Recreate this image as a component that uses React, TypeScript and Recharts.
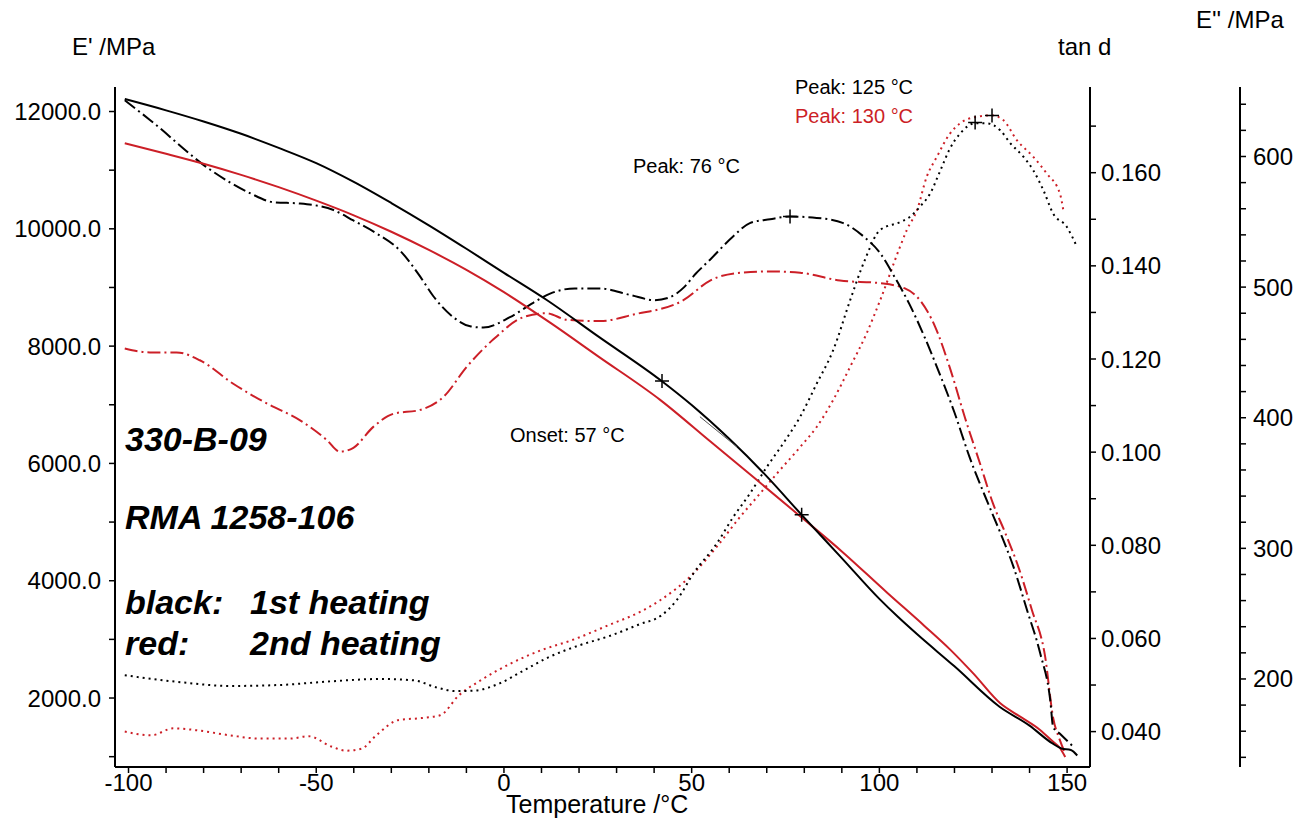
import React from "react";
import { ComposedChart, Line, XAxis, YAxis, ReferenceDot, ReferenceLine } from "recharts";

const FONT = "'Liberation Sans', Arial, Helvetica, sans-serif";
const BLACK = "#000000";
const RED = "#cc1f27";

// E' storage modulus (MPa), 1st heating
const storage1Temp = [-101, -90, -80, -70, -60, -50, -40, -30, -20, -10, 0, 11.4, 25, 42, 50, 60, 70, 79.3, 89.5, 100, 105, 110, 120, 132, 140, 146, 148.5, 151, 152.7];
const storage1 = [12213, 12020, 11830, 11620, 11380, 11120, 10800, 10440, 10060, 9660, 9250, 8786, 8170, 7405, 6995, 6420, 5780, 5123, 4420, 3690, 3380, 3090, 2540, 1852, 1530, 1230, 1140, 1115, 1020];

// E' storage modulus (MPa), 2nd heating
const storage2Temp = [-101, -90, -80, -70, -60, -50, -40, -30, -20, -10, 0, 12.3, 25, 41.6, 55, 67.3, 78.9, 90, 102, 112, 118.8, 125, 132.2, 137.5, 142.8, 146, 148.1, 149.5];
const storage2 = [11458, 11280, 11110, 10920, 10710, 10480, 10230, 9950, 9640, 9300, 8920, 8400, 7830, 7084, 6373, 5720, 5100, 4500, 3800, 3230, 2830, 2420, 1910, 1682, 1455, 1270, 1148, 995];

// E'' loss modulus (MPa), 1st heating
const loss1Temp = [-101, -94.3, -78.3, -67.7, -61.4, -54.3, -45.4, -40.1, -33.9, -27.7, -22.3, -18.8, -13.5, -9, -5.5, 1.6, 7.8, 12.3, 18.9, 25.6, 33.6, 40.2, 44, 48, 51, 54.9, 61.1, 65.5, 70.9, 76.2, 83.3, 90.4, 95.7, 100.2, 104, 108, 112, 116, 120, 124, 129, 132.2, 135.7, 139.3, 142.8, 145.5, 146.3, 148.1, 151.7];
const loss1 = [643, 628, 590, 572, 565, 564, 559, 551, 541, 528, 508, 493, 477, 470, 469, 477, 488, 495, 499, 499, 494, 490, 492, 500, 510, 521, 539, 549, 552, 554, 553, 549, 539, 526, 508, 487, 462, 434, 404, 370, 334, 312, 286, 253, 220, 184, 163, 158, 148];

// E'' loss modulus (MPa), 2nd heating
const loss2Temp = [-101, -94.3, -87.2, -81, -72.1, -63.2, -54.3, -47.2, -43.7, -40.1, -34.8, -29.5, -22.3, -16.1, -9.9, -2.8, 5.2, 11.4, 16.7, 25.6, 34.5, 47.8, 54.9, 62.9, 70.9, 78.9, 89.5, 100.2, 106.8, 110.8, 114.8, 118.8, 122.8, 126.8, 130.3, 133.5, 137, 140.6, 144.1, 146.3, 148.1, 149.5];
const loss2 = [453, 450, 450, 444, 426, 411, 398, 383, 374, 377, 393, 403, 406, 416, 439, 460, 477, 480, 475, 474, 479, 490, 505, 511, 512, 511, 505, 503, 499, 490, 470, 438, 400, 365, 334, 312, 286, 253, 218, 170, 153, 143];

// tan d, 1st heating
const tan1Temp = [-101, -86, -73, -60, -46, -33, -24, -18, -13, -8, -1, 5, 12, 20, 28, 36, 42, 46, 50.5, 56.7, 61.1, 65.5, 70, 74.4, 78.9, 83.3, 87.7, 92.2, 96, 100.2, 105.5, 108.1, 110.8, 113.5, 116.1, 118.8, 121.5, 125.5, 128.6, 132.2, 134.9, 138.4, 141, 143.7, 146.3, 149.9, 152.6];
const tan1 = [0.0521, 0.0506, 0.0498, 0.05, 0.0508, 0.0513, 0.051, 0.0495, 0.0487, 0.0488, 0.0504, 0.053, 0.056, 0.0585, 0.0605, 0.063, 0.065, 0.0682, 0.074, 0.0804, 0.0861, 0.0911, 0.0968, 0.1019, 0.1076, 0.1147, 0.1219, 0.1326, 0.141, 0.1477, 0.1494, 0.1505, 0.1527, 0.1555, 0.1602, 0.1652, 0.1684, 0.1706, 0.1706, 0.1691, 0.1663, 0.1634, 0.1605, 0.1562, 0.1512, 0.1484, 0.1441];

// tan d, 2nd heating
const tan2Temp = [-101, -94, -88, -81, -73, -65, -57, -52, -46, -42, -38, -34, -28, -22, -17, -12, -6, 2, 10, 18, 28, 36, 41.6, 50.5, 56.7, 62.9, 68.2, 72.7, 78.9, 83.3, 87.7, 92.2, 96.6, 100.2, 105.5, 107.3, 110, 112.6, 115.3, 118.8, 121.5, 125.9, 129.9, 133, 136.6, 141, 144.6, 148.1, 149];
const tan2 = [0.04, 0.0392, 0.0407, 0.0402, 0.0392, 0.0385, 0.0385, 0.039, 0.0368, 0.0359, 0.0363, 0.0392, 0.0425, 0.0429, 0.0435, 0.0478, 0.0511, 0.0547, 0.0575, 0.0596, 0.0629, 0.0656, 0.0682, 0.074, 0.0797, 0.0861, 0.0911, 0.0954, 0.1011, 0.1054, 0.1112, 0.1183, 0.1255, 0.1326, 0.1441, 0.1477, 0.1519, 0.1591, 0.1634, 0.1684, 0.1706, 0.172, 0.1723, 0.1713, 0.167, 0.1634, 0.1598, 0.1555, 0.1519];

const tempTicks = [-100, -90, -80, -70, -60, -50, -40, -30, -20, -10, 0, 10, 20, 30, 40, 50, 60, 70, 80, 90, 100, 110, 120, 130, 140, 150];
const storageTicks = [1000, 2000, 3000, 4000, 5000, 6000, 7000, 8000, 9000, 10000, 11000, 12000];
const tanTicks = [0.04, 0.05, 0.06, 0.07, 0.08, 0.09, 0.1, 0.11, 0.12, 0.13, 0.14, 0.15, 0.16, 0.17];
const lossTicks = [140, 160, 180, 200, 220, 240, 260, 280, 300, 320, 340, 360, 380, 400, 420, 440, 460, 480, 500, 520, 540, 560, 580, 600, 620, 640];

// crosshair marks: onset tangent points, E'' peak, tan d peaks
const storageMarks = [[42.1, 7405], [79.3, 5123]];
const lossMarks = [[76.2, 554]];
const tanMarks = [[125.5, 0.1708], [130, 0.1723]];
// short onset tangent piece drawn beside the 1st heating E' curve
const onsetTangent = [{ x: 52.2, y: 6796 }, { x: 62.0, y: 6285 }];

const zip = (ts: number[], vs: number[]) => ts.map((t, i) => ({ t, v: vs[i] }));

const Plus = (props: any) => {
  const { cx, cy } = props;
  return <path d={`M${cx - 7},${cy}H${cx + 7}M${cx},${cy - 7}V${cy + 7}`} stroke={BLACK} strokeWidth={1.5} fill="none" />;
};

const tickStyle = { fill: BLACK, fontSize: 24, fontFamily: FONT };
const axisLine = { stroke: BLACK, strokeWidth: 2 };
const tickLine = { stroke: BLACK, strokeWidth: 1.5 };

const txt = (left: number, top: number, size: number, extra: any = {}) => ({
  position: "absolute" as const,
  left,
  top,
  fontSize: size,
  lineHeight: 1,
  fontFamily: FONT,
  whiteSpace: "nowrap" as const,
  color: BLACK,
  ...extra,
});

const big = { fontWeight: "bold", fontStyle: "italic" };

export default function App() {
  const dashDot = "13 4 2 4";
  const dotted = "2 4";
  return (
    <div style={{ position: "absolute", left: 0, top: 0, width: 1299, height: 826, background: "#fff" }}>
      <ComposedChart width={1299} height={826} margin={{ top: 87, right: 0, bottom: 0, left: 0 }}>
        <XAxis
          dataKey="t"
          type="number"
          domain={[-103.6, 156.1]}
          allowDataOverflow
          ticks={tempTicks}
          interval={0}
          tickFormatter={(v: number) => (v % 50 === 0 ? String(v) : "")}
          height={59}
          tickSize={6}
          tickMargin={1}
          axisLine={axisLine}
          tickLine={tickLine}
          tick={tickStyle}
        />
        <YAxis
          yAxisId="storage"
          orientation="left"
          width={115}
          domain={[824, 12418]}
          allowDataOverflow
          ticks={storageTicks}
          interval={0}
          tickFormatter={(v: number) => (v % 2000 === 0 ? v.toFixed(1) : "")}
          tickSize={6}
          tickMargin={8}
          axisLine={axisLine}
          tickLine={tickLine}
          tick={tickStyle}
        />
        <YAxis
          yAxisId="r2loss"
          orientation="right"
          width={59}
          domain={[132.6, 653.2]}
          allowDataOverflow
          ticks={lossTicks}
          interval={0}
          tickFormatter={(v: number) => (v % 100 === 0 ? String(v) : "")}
          tickSize={6}
          tickMargin={7}
          axisLine={axisLine}
          tickLine={tickLine}
          tick={tickStyle}
        />
        <YAxis
          yAxisId="r1tan"
          orientation="right"
          width={150}
          domain={[0.0324, 0.1784]}
          allowDataOverflow
          ticks={tanTicks}
          interval={0}
          tickFormatter={(v: number) => (Math.round(v * 1000) % 20 === 0 ? v.toFixed(3) : "")}
          tickSize={6}
          tickMargin={5}
          axisLine={axisLine}
          tickLine={tickLine}
          tick={tickStyle}
        />

        <Line yAxisId="r1tan" data={zip(tan2Temp, tan2)} dataKey="v" type="monotone" stroke={RED} strokeWidth={2} strokeDasharray={dotted} dot={false} isAnimationActive={false} />
        <Line yAxisId="r1tan" data={zip(tan1Temp, tan1)} dataKey="v" type="monotone" stroke={BLACK} strokeWidth={2} strokeDasharray={dotted} dot={false} isAnimationActive={false} />
        <Line yAxisId="r2loss" data={zip(loss2Temp, loss2)} dataKey="v" type="monotone" stroke={RED} strokeWidth={2} strokeDasharray={dashDot} dot={false} isAnimationActive={false} />
        <Line yAxisId="r2loss" data={zip(loss1Temp, loss1)} dataKey="v" type="monotone" stroke={BLACK} strokeWidth={2} strokeDasharray={dashDot} dot={false} isAnimationActive={false} />
        <Line yAxisId="storage" data={zip(storage2Temp, storage2)} dataKey="v" type="monotone" stroke={RED} strokeWidth={2} dot={false} isAnimationActive={false} />
        <Line yAxisId="storage" data={zip(storage1Temp, storage1)} dataKey="v" type="monotone" stroke={BLACK} strokeWidth={2} dot={false} isAnimationActive={false} />

        <ReferenceLine yAxisId="storage" segment={onsetTangent} stroke="#555" strokeWidth={1} />
        {storageMarks.map(([t, v], i) => (
          <ReferenceDot key={`s${i}`} yAxisId="storage" x={t} y={v} shape={Plus} />
        ))}
        {lossMarks.map(([t, v], i) => (
          <ReferenceDot key={`l${i}`} yAxisId="r2loss" x={t} y={v} shape={Plus} />
        ))}
        {tanMarks.map(([t, v], i) => (
          <ReferenceDot key={`t${i}`} yAxisId="r1tan" x={t} y={v} shape={Plus} />
        ))}
      </ComposedChart>

      <div style={txt(72, 35, 24)}>E' /MPa</div>
      <div style={txt(1058, 35, 24)}>tan d</div>
      <div style={txt(1196, 8, 24)}>E'' /MPa</div>
      <div style={txt(506, 792, 25)}>Temperature /°C</div>

      <div style={txt(795, 77, 20)}>Peak: 125 °C</div>
      <div style={txt(795, 106, 20, { color: RED })}>Peak: 130 °C</div>
      <div style={txt(633, 156, 20)}>Peak: 76 °C</div>
      <div style={txt(510, 425, 20)}>Onset: 57 °C</div>

      <div style={txt(125, 422, 34, big)}>330-B-09</div>
      <div style={txt(125, 500, 34, big)}>RMA 1258-106</div>
      <div style={txt(125, 585, 34, big)}>black:</div>
      <div style={txt(250, 585, 34, big)}>1st heating</div>
      <div style={txt(125, 626, 34, big)}>red:</div>
      <div style={txt(250, 626, 34, big)}>2nd heating</div>
    </div>
  );
}
